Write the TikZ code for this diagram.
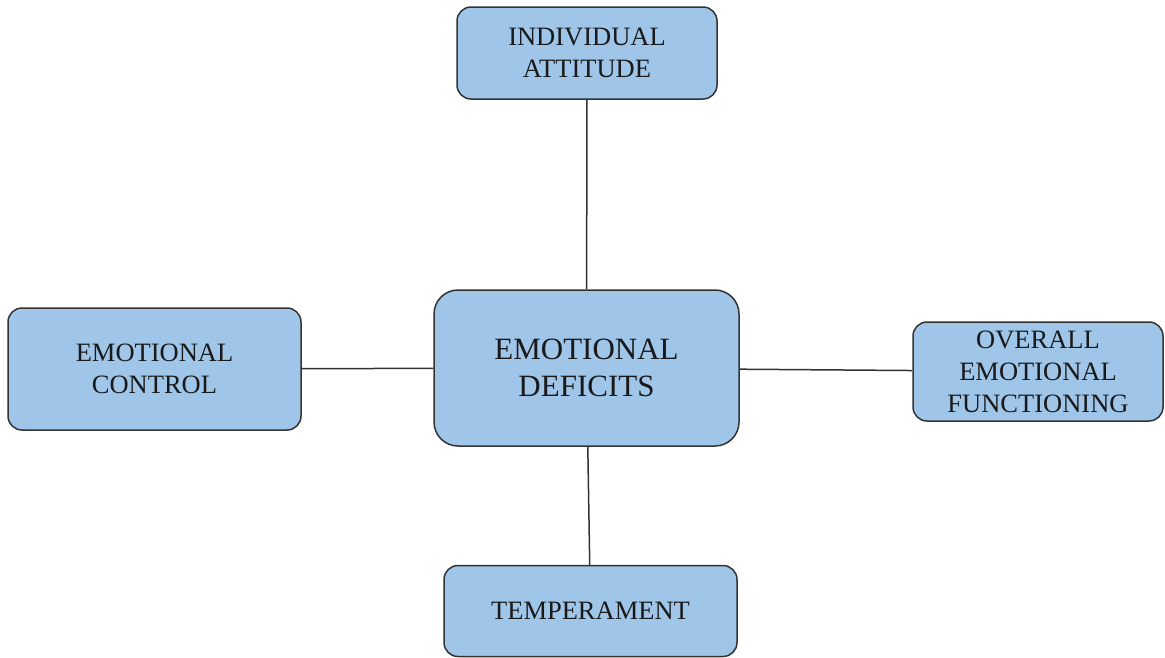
\documentclass[tikz,border=0pt]{standalone}
\usepackage{fontspec}
\setmainfont{Liberation Serif}
\definecolor{boxblue}{HTML}{9FC5E8}
\definecolor{edgegray}{HTML}{333333}
\begin{document}
\begin{tikzpicture}[x=1pt,y=-1pt,
    topic/.style={rectangle, rounded corners=14pt, draw=edgegray, line width=1.5pt,
      fill=boxblue, align=center, inner sep=0pt, text=black!90,
      font=\fontsize{26.5}{32}\selectfont},
    link/.style={draw=edgegray, line width=1.5pt}]
  \useasboundingbox (0,0) rectangle (1165,657);
  \node[topic, rounded corners=24pt, minimum width=305pt, minimum height=156pt,
    font=\fontsize{31}{37}\selectfont] at (586.5,368) (deficits) {EMOTIONAL\\DEFICITS};
  \node[topic, minimum width=260pt, minimum height=92pt] at (587,53) (attitude) {INDIVIDUAL\\ATTITUDE};
  \node[topic, minimum width=293pt, minimum height=122pt] at (154.5,369) (control) {EMOTIONAL\\CONTROL};
  \node[topic, minimum width=250pt, minimum height=99pt] at (1038,371.5) (functioning) {OVERALL\\EMOTIONAL\\FUNCTIONING};
  \node[topic, minimum width=293pt, minimum height=91pt] at (590.5,611) (temperament) {TEMPERAMENT};
  % links from the centre box
  \draw[link] (attitude) -- (deficits);
  \draw[link] (control) -- (deficits);
  \draw[link] (deficits) -- (functioning);
  \draw[link] (deficits) -- (temperament);
\end{tikzpicture}
\end{document}
